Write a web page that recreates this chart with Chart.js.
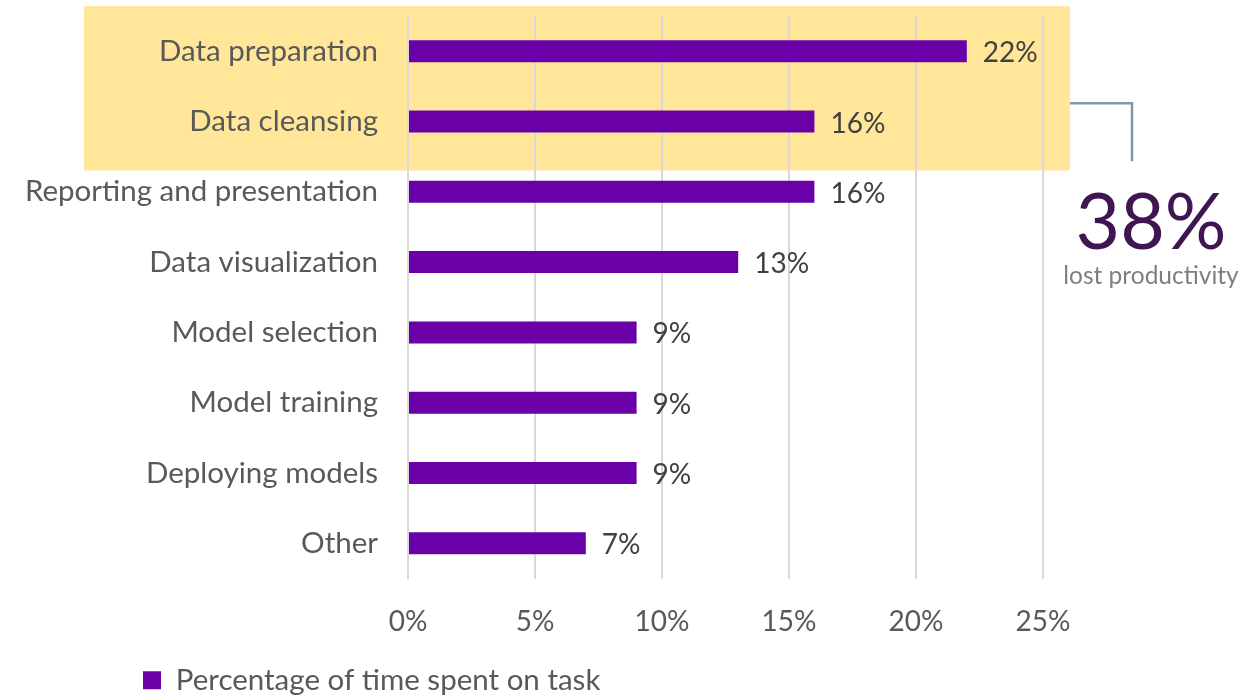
<!DOCTYPE html>
<html>
<head>
<meta charset="utf-8">
<script src="https://cdn.jsdelivr.net/npm/chart.js@4.4.1/dist/chart.umd.min.js"></script>
<style>
  html, body { margin: 0; padding: 0; background: #fff; }
  #wrap { width: 1245px; height: 696px; }
</style>
</head>
<body>
<div id="wrap"><canvas id="myChart"></canvas></div>
<script>
// Time spent on each data science task
var tasks = ["Data preparation", "Data cleansing", "Reporting and presentation", "Data visualization",
             "Model selection", "Model training", "Deploying models", "Other"];
var timeShare = [22, 16, 16, 13, 9, 9, 9, 7];
var xTicks = [0, 5, 10, 15, 20, 25];
var lostShare = 38; // preparation + cleansing
var lostLabel = "lost productivity";

var FONT = "Lato, 'Open Sans', sans-serif";

// Yellow band behind the first two tasks, bracket and big callout
var highlight = {
    id: 'highlight',
    afterLayout: function(chart) {
        // push the legend in from the left edge and nudge it down a little
        if (chart.legend) {
            chart.legend.left = 143;
            chart.legend.top += 3;
        }
    },
    beforeDraw: function(chart) {
        var c = chart.ctx, y = chart.scales.y, area = chart.chartArea;
        var top = y.getPixelForValue(0) - 45;
        var bottom = y.getPixelForValue(1) + 49;
        c.save();
        c.fillStyle = '#FFE699';
        c.fillRect(84, top, area.right + 27 - 84, bottom - top);
        c.restore();
    },
    afterDraw: function(chart) {
        var c = chart.ctx, y = chart.scales.y, area = chart.chartArea;
        var right = area.right + 27;
        var midY = (y.getPixelForValue(0) + y.getPixelForValue(1)) / 2 + 17;
        c.save();
        c.strokeStyle = '#8497B0';
        c.lineWidth = 2.5;
        c.beginPath();
        c.moveTo(right, midY);
        c.lineTo(right + 62, midY);
        c.lineTo(right + 62, midY + 58);
        c.stroke();

        c.textAlign = 'center';
        c.textBaseline = 'alphabetic';
        c.fillStyle = '#3F1651';
        c.font = '77px ' + FONT;
        c.fillText(lostShare + '%', 1151, 249);
        c.fillStyle = '#7F7F7F';
        c.font = '24.5px ' + FONT;
        c.fillText(lostLabel, 1151, 284);
        c.restore();
    }
};

// Value labels at the end of each bar
var barLabels = {
    id: 'barLabels',
    afterDatasetsDraw: function(chart) {
        var c = chart.ctx;
        var meta = chart.getDatasetMeta(0);
        c.save();
        c.font = '28px ' + FONT;
        c.fillStyle = '#404040';
        c.textAlign = 'left';
        c.textBaseline = 'middle';
        meta.data.forEach(function(bar, i) {
            c.fillText(timeShare[i] + '%', bar.x + 16, bar.y + 2);
        });
        c.restore();
    }
};

var ctx = document.getElementById('myChart').getContext('2d');
var myChart = new Chart(ctx, {
    type: 'bar',
    data: {
        labels: tasks,
        datasets: [{
            label: 'Percentage of time spent on task',
            data: timeShare,
            backgroundColor: '#6A00A8',
            borderWidth: 0,
            barPercentage: 0.313,
            categoryPercentage: 1.0
        }]
    },
    options: {
        indexAxis: 'y',
        responsive: true,
        maintainAspectRatio: false,
        animation: false,
        layout: { padding: { left: 10, right: 202, top: 16, bottom: -6 } },
        scales: {
            x: {
                min: 0,
                max: 25,
                afterBuildTicks: function(scale) {
                    scale.ticks = xTicks.map(function(v) { return { value: v }; });
                },
                afterFit: function(scale) { scale.height = 84; },
                grid: { color: '#D9D9D9', lineWidth: 2, drawTicks: false },
                border: { display: false },
                ticks: {
                    padding: 27,
                    color: '#595959',
                    font: { family: FONT, size: 28 },
                    callback: function(v) { return v + '%'; }
                }
            },
            y: {
                grid: { display: false },
                border: { display: false },
                afterFit: function(scale) {
                    scale.width = 398;
                    scale.paddingTop = 0;
                    scale.paddingBottom = 0;
                },
                ticks: {
                    padding: 22,
                    color: '#595959',
                    font: { family: FONT, size: 29.5 }
                }
            }
        },
        plugins: {
            legend: {
                position: 'bottom',
                align: 'start',
                labels: {
                    boxWidth: 18,
                    boxHeight: 18,
                    padding: 0,
                    color: '#595959',
                    font: { family: FONT, size: 29.5 }
                }
            },
            tooltip: { enabled: false }
        }
    },
    plugins: [highlight, barLabels]
});
</script>
</body>
</html>
